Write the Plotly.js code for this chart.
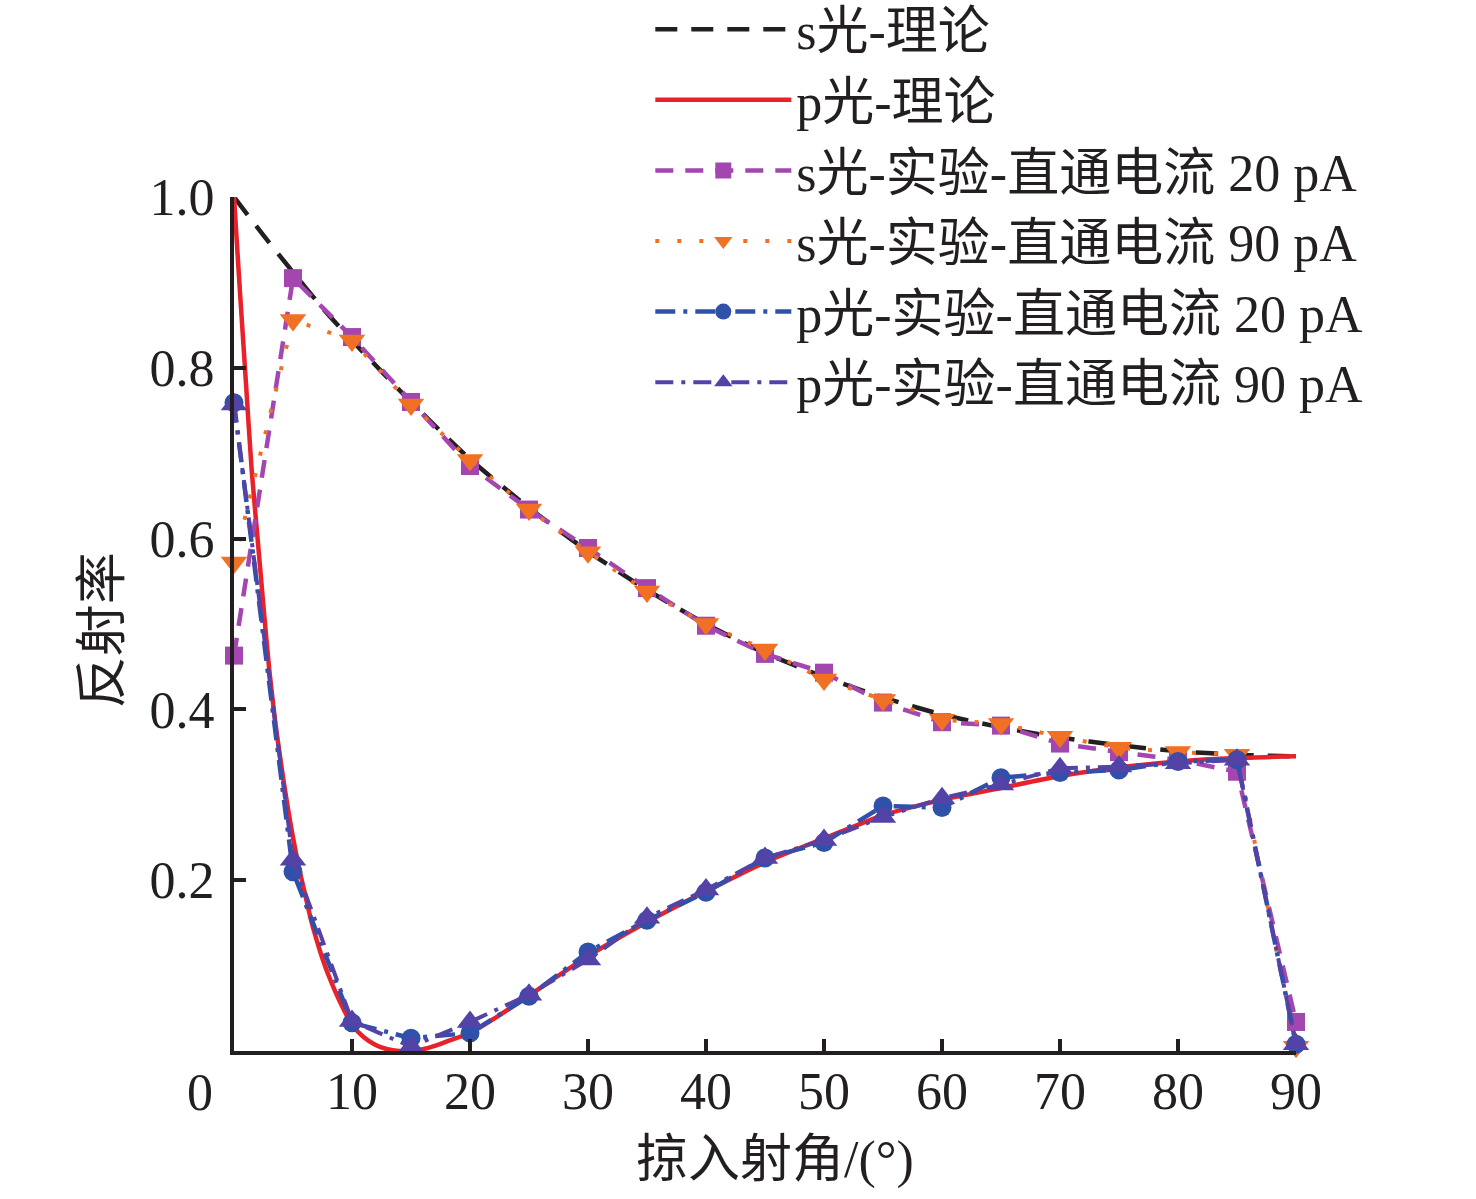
<!DOCTYPE html>
<html>
<head>
<meta charset="utf-8">
<script src="https://cdn.plot.ly/plotly-3.0.1.min.js"></script>
<style>
  html, body { margin: 0; padding: 0; background: #fff; }
  #chart { width: 1476px; height: 1199px; }
</style>
</head>
<body>
<div id="chart"></div>
<script>
// grazing angle (deg) of the measured points
const angleExp = [0, 5, 10, 15, 20, 25, 30, 35, 40, 45, 50, 55, 60, 65, 70, 75, 80, 85, 90]

const sExp20 = [0.463, 0.905, 0.836, 0.760, 0.685, 0.634, 0.589, 0.542, 0.498, 0.465, 0.443, 0.408, 0.385, 0.381, 0.360, 0.350, 0.341, 0.327, 0.034]
const sExp90 = [0.572, 0.856, 0.832, 0.757, 0.692, 0.634, 0.584, 0.538, 0.500, 0.470, 0.435, 0.411, 0.388, 0.383, 0.368, 0.355, 0.350, 0.347, 0.005]
const pExp20 = [0.759, 0.210, 0.033, 0.015, 0.021, 0.064, 0.116, 0.153, 0.186, 0.226, 0.244, 0.287, 0.285, 0.320, 0.326, 0.329, 0.339, 0.341, 0.008]
const pExp90 = [0.757, 0.224, 0.035, 0.005, 0.034, 0.066, 0.107, 0.156, 0.189, 0.226, 0.247, 0.274, 0.296, 0.312, 0.331, 0.333, 0.337, 0.341, 0.008]

// theory curves
const angleS = [0, 2.5, 5, 7.5, 10, 15, 20, 25, 30, 35, 40, 45, 50, 55, 60, 65, 70, 75, 80, 85, 90]
const sTheory = [1.0, 0.955, 0.912, 0.870, 0.832, 0.760, 0.693, 0.636, 0.585, 0.540, 0.500, 0.466, 0.438, 0.414, 0.394, 0.379, 0.367, 0.358, 0.351, 0.347, 0.345]

const angleP = [0, 0.5, 1, 1.5, 2, 2.5, 3, 3.5, 4, 4.5, 5, 5.5, 6, 6.5, 7, 7.5, 8, 9, 10, 11, 12, 13, 14, 15, 16, 17, 18, 20, 22.5, 25, 30, 35, 40, 45, 50, 55, 60, 65, 70, 75, 80, 85, 90]
const pTheory = [1.0, 0.89, 0.785, 0.68, 0.60, 0.52, 0.445, 0.385, 0.335, 0.29, 0.25, 0.215, 0.185, 0.155, 0.13, 0.108, 0.089, 0.057, 0.031, 0.016, 0.007, 0.002, 0.0, 0.0, 0.002, 0.006, 0.011, 0.021, 0.042, 0.065, 0.111, 0.151, 0.187, 0.221, 0.249, 0.276, 0.294, 0.308, 0.322, 0.332, 0.339, 0.343, 0.345]

const xTicks = [10, 20, 30, 40, 50, 60, 70, 80, 90]
const yTicks = [0.2, 0.4, 0.6, 0.8, 1.0]
const yTickText = ['0.2', '0.4', '0.6', '0.8', '1.0']

const names = [
    's光-理论',
    'p光-理论',
    's光-实验-直通电流 20 pA',
    's光-实验-直通电流 90 pA',
    'p光-实验-直通电流 20 pA',
    'p光-实验-直通电流 90 pA'
]
const xTitle = '掠入射角/(°)'
const yTitle = '反射率'

const ink = '#231f20'
const font = '"Liberation Serif", "Noto Sans CJK SC", serif'

function expTrace(name, y, color, dash, width, symbol, size) {
    return {
        x: angleExp,
        y: y,
        type: 'scatter',
        mode: 'lines+markers',
        name: name,
        cliponaxis: false,
        line: {color: color, dash: dash, width: width},
        marker: {color: color, symbol: symbol, size: size, line: {width: 0}}
    }
}

const traces = [
    {
        x: angleS, y: sTheory, type: 'scatter', mode: 'lines', name: names[0],
        line: {color: ink, dash: '22px,14px', width: 4.5, shape: 'spline', smoothing: 0.6}
    },
    {
        x: angleP, y: pTheory, type: 'scatter', mode: 'lines', name: names[1],
        line: {color: '#e8212a', width: 4.5, shape: 'spline', smoothing: 0.6}
    },
    expTrace(names[2], sExp20, '#a346b0', '18px,12px', 4.5, 'square', 18),
    expTrace(names[3], sExp90, '#f07024', '4px,18px', 4, 'triangle-down', 23),
    expTrace(names[4], pExp20, '#2f51a9', '20px,8px,4px,8px', 4.5, 'circle', 19),
    expTrace(names[5], pExp90, '#5443a6', '18px,8px,4px,8px', 4, 'triangle-up', 23)
]

const axisCommon = {
    showline: true,
    linewidth: 4,
    linecolor: ink,
    ticks: 'inside',
    ticklen: 12,
    tickwidth: 4,
    tickcolor: ink,
    showgrid: false,
    zeroline: false,
    automargin: false,
    tickfont: {family: font, size: 52, color: ink}
}

const layout = {
    width: 1476,
    height: 1199,
    margin: {l: 234, r: 180, t: 197, b: 148, autoexpand: false},
    paper_bgcolor: '#fff',
    plot_bgcolor: '#fff',
    font: {family: font, color: ink},
    showlegend: true,
    legend: {
        xref: 'paper', yref: 'paper',
        x: 0.392, y: 1.2437, xanchor: 'left', yanchor: 'top',
        bgcolor: 'rgba(0,0,0,0)',
        font: {family: font, size: 52, color: ink},
        itemwidth: 136,
        tracegroupgap: 0
    },
    xaxis: Object.assign({}, axisCommon, {
        range: [0, 90],
        tickvals: xTicks,
        ticklabelstandoff: -8
    }),
    yaxis: Object.assign({}, axisCommon, {
        range: [0, 1],
        tickvals: yTicks,
        ticktext: yTickText,
        ticklabelstandoff: 5
    }),
    annotations: [
        {
            x: 0, y: 0, xref: 'x', yref: 'y',
            text: '0', showarrow: false,
            xshift: -34, yshift: -41,
            font: {family: font, size: 52, color: ink}
        },
        {
            x: 0.509, y: -0.128, xref: 'paper', yref: 'paper',
            xanchor: 'center', yanchor: 'middle',
            text: xTitle, showarrow: false,
            font: {family: font, size: 52, color: ink}
        },
        {
            x: -0.123, y: 0.493, xref: 'paper', yref: 'paper',
            xanchor: 'center', yanchor: 'middle', textangle: -90,
            text: yTitle, showarrow: false,
            font: {family: font, size: 52, color: ink}
        }
    ]
}

Plotly.newPlot('chart', traces, layout, {displayModeBar: false, staticPlot: true})
</script>
</body>
</html>
